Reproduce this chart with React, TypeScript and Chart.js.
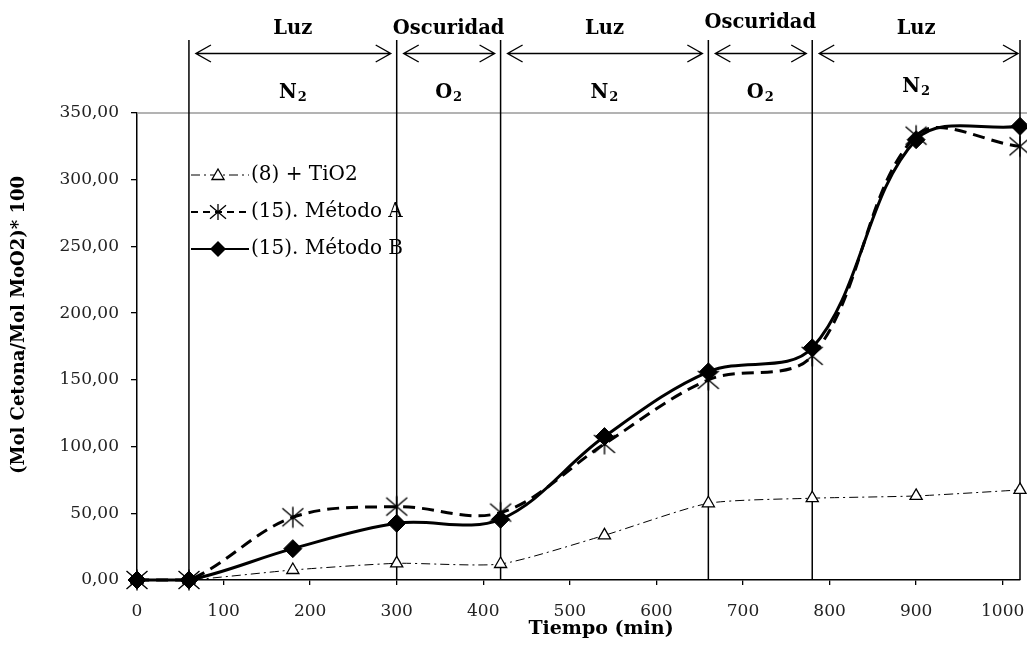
import React, { useEffect, useRef } from 'react';
import { Chart, registerables } from 'chart.js';

Chart.register(...registerables);

// ---- data ----
const TIME = [0, 60, 180, 300, 420, 540, 660, 780, 900, 1020];
const SERIES_TIO2 = [0, 0, 7.5, 12.5, 12, 33.5, 57.5, 61.3, 63, 67.5];
const SERIES_METODO_A = [0, 0, 47, 55, 50.5, 102, 150, 168, 333, 325];
const SERIES_METODO_B = [0, 0, 23.5, 42.5, 45.5, 107.5, 156, 174, 330, 340];
const SERIES_NAMES = ['(8) + TiO2', '(15). Método A', '(15). Método B'];

const X_MIN = 0;
const X_MAX = 1020;
const X_STEP = 100;
const Y_MIN = 0;
const Y_MAX = 350;
const Y_STEP = 50;

const PHASE_BOUNDS = [60, 300, 420, 660, 780, 1020];
const PHASE_LABELS = ['Luz', 'Oscuridad', 'Luz', 'Oscuridad', 'Luz'];
const GAS_LABELS = ['N', 'O', 'N', 'O', 'N'];
const GAS_SUB = '2';

const X_TITLE = 'Tiempo (min)';
const Y_TITLE = '(Mol Cetona/Mol MoO2)* 100';

// ---- layout / style (not data) ----
const W = 1027;
const H = 646;
const SERIF = '"DejaVu Serif", serif';
const PHASE_Y = [34, 34, 34, 28, 34];
const GAS_Y = [98, 98, 98, 98, 92];
const PLOT_LEFT = 137;
const PLOT_RIGHT = 1020;
const PLOT_TOP = 113;
const PLOT_BOTTOM = 580;

const formatY = (v: number) => v.toFixed(2).replace('.', ',');
const formatX = (v: number) => String(v);

function makeAsterisk(size: number, lw: number): HTMLCanvasElement {
  const c = document.createElement('canvas');
  c.width = size;
  c.height = size;
  const g = c.getContext('2d')!;
  const m = size / 2;
  const r = m - 1.5;
  g.strokeStyle = '#000';
  g.lineWidth = lw;
  g.beginPath();
  g.moveTo(m - r, m - r * 0.85);
  g.lineTo(m + r, m + r * 0.85);
  g.moveTo(m - r, m + r * 0.85);
  g.lineTo(m + r, m - r * 0.85);
  g.moveTo(m, m - r);
  g.lineTo(m, m + r);
  g.stroke();
  return c;
}

function drawTriangle(ctx: CanvasRenderingContext2D, x: number, y: number, r: number) {
  ctx.beginPath();
  ctx.moveTo(x, y - r);
  ctx.lineTo(x + r * 0.866, y + r * 0.5);
  ctx.lineTo(x - r * 0.866, y + r * 0.5);
  ctx.closePath();
  ctx.fillStyle = '#fff';
  ctx.fill();
  ctx.strokeStyle = '#000';
  ctx.lineWidth = 1.3;
  ctx.stroke();
}

function drawDiamond(ctx: CanvasRenderingContext2D, x: number, y: number, r: number) {
  ctx.beginPath();
  ctx.moveTo(x - r, y);
  ctx.lineTo(x, y - r);
  ctx.lineTo(x + r, y);
  ctx.lineTo(x, y + r);
  ctx.closePath();
  ctx.fillStyle = '#000';
  ctx.fill();
}

function drawAsteriskMark(ctx: CanvasRenderingContext2D, x: number, y: number, r: number) {
  ctx.beginPath();
  ctx.moveTo(x - r, y - r * 0.85);
  ctx.lineTo(x + r, y + r * 0.85);
  ctx.moveTo(x - r, y + r * 0.85);
  ctx.lineTo(x + r, y - r * 0.85);
  ctx.moveTo(x, y - r);
  ctx.lineTo(x, y + r);
  ctx.strokeStyle = '#000';
  ctx.lineWidth = 1.3;
  ctx.stroke();
}

const overlayPlugin = {
  id: 'overlay',
  beforeDatasetsDraw(chart: any) {
    const { ctx, chartArea } = chart;
    const xs = chart.scales.x;
    const ys = chart.scales.y;
    ctx.save();
    // top gray border line
    const yTop = ys.getPixelForValue(Y_MAX);
    ctx.strokeStyle = '#9a9a9a';
    ctx.lineWidth = 1.5;
    ctx.beginPath();
    ctx.moveTo(chartArea.left, yTop);
    ctx.lineTo(W, yTop);
    ctx.stroke();

    // phase separators
    ctx.strokeStyle = '#000';
    ctx.lineWidth = 1.5;
    PHASE_BOUNDS.forEach((b) => {
      const px = xs.getPixelForValue(b);
      ctx.beginPath();
      ctx.moveTo(px, 40);
      ctx.lineTo(px, chartArea.bottom);
      ctx.stroke();
    });

    // double arrows
    const ay = 53.5;
    ctx.lineWidth = 1.4;
    for (let i = 0; i < PHASE_BOUNDS.length - 1; i++) {
      const x1 = xs.getPixelForValue(PHASE_BOUNDS[i]) + 7;
      const x2 = xs.getPixelForValue(PHASE_BOUNDS[i + 1]) - (i === PHASE_BOUNDS.length - 2 ? 2 : 6);
      ctx.beginPath();
      ctx.moveTo(x1, ay);
      ctx.lineTo(x2, ay);
      ctx.moveTo(x1 + 15, ay - 8.5);
      ctx.lineTo(x1, ay);
      ctx.lineTo(x1 + 15, ay + 8.5);
      ctx.moveTo(x2 - 15, ay - 8.5);
      ctx.lineTo(x2, ay);
      ctx.lineTo(x2 - 15, ay + 8.5);
      ctx.stroke();
    }

    // phase labels and gas labels
    ctx.fillStyle = '#000';
    ctx.textBaseline = 'alphabetic';
    for (let i = 0; i < PHASE_LABELS.length; i++) {
      const mid = (xs.getPixelForValue(PHASE_BOUNDS[i]) + xs.getPixelForValue(PHASE_BOUNDS[i + 1])) / 2;
      ctx.font = `bold 19.5px ${SERIF}`;
      ctx.textAlign = 'center';
      ctx.fillText(PHASE_LABELS[i], mid, PHASE_Y[i]);
      ctx.font = `bold 19.5px ${SERIF}`;
      const wMain = ctx.measureText(GAS_LABELS[i]).width;
      ctx.font = `bold 13px ${SERIF}`;
      const wSub = ctx.measureText(GAS_SUB).width;
      const total = wMain + wSub + 1;
      const start = mid - total / 2;
      ctx.textAlign = 'left';
      ctx.font = `bold 19.5px ${SERIF}`;
      ctx.fillText(GAS_LABELS[i], start, GAS_Y[i]);
      ctx.font = `bold 13px ${SERIF}`;
      ctx.fillText(GAS_SUB, start + wMain + 1, GAS_Y[i] + 3);
    }
    ctx.restore();
  },
  afterDatasetsDraw(chart: any) {
    const { ctx } = chart;
    ctx.save();
    const rows = [175, 212, 249];
    const lx1 = 191;
    const lx2 = 249;
    const mx = 218;
    // TiO2
    ctx.strokeStyle = '#000';
    ctx.lineWidth = 1;
    ctx.setLineDash([9, 4, 2, 4]);
    ctx.beginPath();
    ctx.moveTo(lx1, rows[0]);
    ctx.lineTo(lx2, rows[0]);
    ctx.stroke();
    ctx.setLineDash([]);
    drawTriangle(ctx, mx, rows[0] + 1, 7);
    // A
    ctx.lineWidth = 2;
    ctx.setLineDash([7, 5]);
    ctx.beginPath();
    ctx.moveTo(lx1, rows[1]);
    ctx.lineTo(lx2, rows[1]);
    ctx.stroke();
    ctx.setLineDash([]);
    drawAsteriskMark(ctx, mx, rows[1], 8);
    // B
    ctx.lineWidth = 2;
    ctx.beginPath();
    ctx.moveTo(lx1, rows[2]);
    ctx.lineTo(lx2, rows[2]);
    ctx.stroke();
    drawDiamond(ctx, mx, rows[2], 8);
    // texts
    ctx.fillStyle = '#000';
    ctx.font = `20px ${SERIF}`;
    ctx.textAlign = 'left';
    ctx.textBaseline = 'middle';
    SERIES_NAMES.forEach((n, i) => ctx.fillText(n, 251, rows[i]));
    ctx.restore();
  },
  afterDraw(chart: any) {
    const { ctx } = chart;
    ctx.save();
    ctx.fillStyle = '#000';
    ctx.textAlign = 'center';
    ctx.textBaseline = 'middle';
    ctx.font = `bold 19px ${SERIF}`;
    ctx.fillText(X_TITLE, 601, 629);
    ctx.font = `bold 18px ${SERIF}`;
    ctx.translate(19, 325);
    ctx.rotate(-Math.PI / 2);
    ctx.fillText(Y_TITLE, 0, 0);
    ctx.restore();
  },
};

// force the chart area to the reference plot rectangle
const areaPlugin = {
  id: 'fixArea',
  afterLayout(chart: any) {
    const a = chart.chartArea;
    const dl = PLOT_LEFT - a.left;
    const dr = PLOT_RIGHT - a.right;
    if (Math.abs(dl) > 0.01 || Math.abs(dr) > 0.01) {
      a.left = PLOT_LEFT;
      a.right = PLOT_RIGHT;
      a.width = PLOT_RIGHT - PLOT_LEFT;
      const xs = chart.scales.x;
      xs.left = PLOT_LEFT;
      xs.right = PLOT_RIGHT;
      xs.width = PLOT_RIGHT - PLOT_LEFT;
      xs.configure();
      const ys = chart.scales.y;
      ys.right = PLOT_LEFT;
      ys.left = 0;
      ys.width = PLOT_LEFT;
    }
  },
};

export default function App() {
  const ref = useRef<HTMLCanvasElement | null>(null);

  useEffect(() => {
    document.body.style.margin = '0';
    const canvas = ref.current;
    if (!canvas) return;
    const asterisk = makeAsterisk(24, 1.4);
    const toPts = (ys: number[]) => TIME.map((t, i) => ({ x: t, y: ys[i] }));
    const chart = new Chart(canvas, {
      type: 'line',
      data: {
        datasets: [
          {
            label: SERIES_NAMES[0],
            data: toPts(SERIES_TIO2),
            borderColor: '#000',
            borderWidth: 1,
            borderDash: [9, 4, 2, 4],
            tension: 0.2,
            pointStyle: 'triangle',
            pointRadius: 7,
            pointBackgroundColor: '#fff',
            pointBorderColor: '#000',
            pointBorderWidth: 1.3,
            order: 2,
            clip: false,
          },
          {
            label: SERIES_NAMES[1],
            data: toPts(SERIES_METODO_A),
            borderColor: '#000',
            borderWidth: 3,
            borderDash: [12, 7],
            tension: 0.35,
            pointStyle: asterisk,
            pointRadius: 10,
            order: 1,
            clip: false,
          },
          {
            label: SERIES_NAMES[2],
            data: toPts(SERIES_METODO_B),
            borderColor: '#000',
            borderWidth: 3,
            tension: 0.35,
            pointStyle: 'rectRot',
            pointRadius: 9,
            pointBackgroundColor: '#000',
            pointBorderColor: '#000',
            pointBorderWidth: 1,
            order: 0,
            clip: false,
          },
        ],
      },
      options: {
        responsive: false,
        animation: false,
        devicePixelRatio: 1,
        layout: { padding: { left: 0, right: W - PLOT_RIGHT, top: PLOT_TOP, bottom: 0 } },
        plugins: {
          legend: { display: false },
          tooltip: { enabled: false },
          title: { display: false },
        },
        elements: { line: { fill: false } },
        scales: {
          x: {
            type: 'linear',
            min: X_MIN,
            max: X_MAX,
            afterFit: (s: any) => {
              s.height = H - PLOT_BOTTOM;
              s.paddingLeft = 0;
              s.paddingRight = 0;
            },
            ticks: {
              stepSize: X_STEP,
              includeBounds: false,
              color: '#222',
              font: { family: SERIF, size: 17 },
              padding: 16,
              maxRotation: 0,
              callback: (v: any) => formatX(Number(v)),
            },
            grid: {
              display: true,
              drawOnChartArea: false,
              drawTicks: true,
              tickLength: 5,
              color: '#000',
              lineWidth: 1.3,
            },
            border: { display: true, color: '#000', width: 1.5 },
          },
          y: {
            type: 'linear',
            min: Y_MIN,
            max: Y_MAX,
            afterFit: (s: any) => {
              s.width = PLOT_LEFT;
              s.paddingTop = 0;
              s.paddingBottom = 0;
            },
            ticks: {
              stepSize: Y_STEP,
              color: '#222',
              font: { family: SERIF, size: 17 },
              padding: 12,
              callback: (v: any) => formatY(Number(v)),
            },
            grid: {
              display: true,
              drawOnChartArea: false,
              drawTicks: true,
              tickLength: 6,
              color: '#000',
              lineWidth: 1.3,
            },
            border: { display: true, color: '#000', width: 1.5 },
          },
        },
      },
      plugins: [areaPlugin, overlayPlugin],
    });
    return () => chart.destroy();
  }, []);

  return (
    <div style={{ width: W, height: H, background: '#fff' }}>
      <canvas ref={ref} width={W} height={H} style={{ display: 'block' }} />
    </div>
  );
}
